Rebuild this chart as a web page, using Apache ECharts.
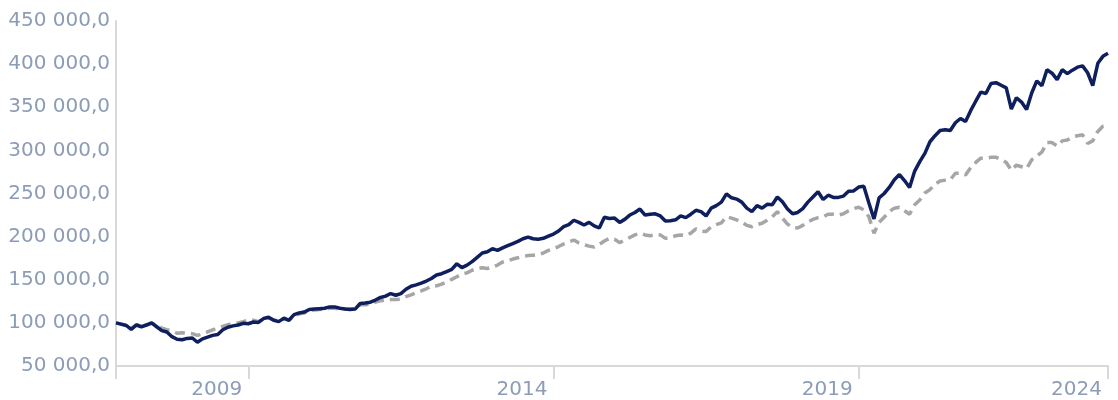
<!DOCTYPE html>
<html>
<head>
<meta charset="utf-8">
<script src="https://cdn.jsdelivr.net/npm/echarts@6/dist/echarts.min.js"></script>
<style>
html,body{margin:0;padding:0;background:#fff;}
#chart{width:1118px;height:400px;}
</style>
</head>
<body>
<div id="chart"></div>
<script>
// Monthly observations, Oct 2007 .. Jan 2024 (values in thousands)
const startYear = 2007, startMonth = 10, monthCount = 196;
const categories = [];
for (let i = 0; i < monthCount; i++) {
  const m = (startMonth - 1 + i) % 12 + 1;
  const y = startYear + Math.floor((startMonth - 1 + i) / 12);
  categories.push(y + '-' + String(m).padStart(2, '0'));
}

const fundValues = [
  100.0, 98.5, 97, 92.5, 97.5, 95.5, 97.5, 100, 95.5, 91,
  89.5, 84, 81, 80.5, 82, 82.5, 77.5, 81.5, 83.5, 85.5,
  86.5, 92, 95, 96.5, 97.5, 99.5, 99, 101, 100.5, 105,
  106.5, 103, 101.5, 105.5, 103, 109.5, 111.5, 112.5, 115.5, 116,
  116.5, 117, 118.5, 118.5, 117, 116, 115.5, 116, 122.5, 123,
  124, 126.5, 129.5, 131, 134, 132, 134, 139, 142.5, 144,
  146, 148.5, 151.5, 155.5, 157, 159.5, 162, 168.5, 164, 167,
  171, 176, 181, 182.5, 186, 184, 187, 189.5, 192, 194.5,
  197.5, 199.5, 197.5, 197, 198, 200.5, 203, 206.5, 211.5, 214,
  219, 216.5, 213.5, 216.5, 212.5, 210, 222.5, 221, 221.5, 216.5,
  220, 225, 228, 232, 225, 226, 226.5, 224, 218, 218.5,
  219.5, 224, 222, 226, 230.5, 229, 224, 233, 236, 240,
  249.5, 245, 243.5, 240, 233, 229, 236, 233, 237.5, 237,
  246, 240.5, 232, 226.5, 228, 232.5, 240, 246, 252, 243,
  248, 245.5, 245.5, 247, 252.5, 253, 257.5, 258.5, 239, 220.5,
  245, 250, 257, 266, 272, 265, 257, 276, 287, 296.5,
  310, 317, 323, 324, 323, 332, 337, 333.5, 346, 357,
  367.5, 366, 377.5, 378.5, 375.5, 372.5, 348, 361, 356, 347.5,
  366.5, 380.5, 375, 393.5, 389.5, 382, 393.5, 389, 393, 396.5,
  398, 390, 375, 401, 409, 412.5
];

const benchmarkValues = [
  100, 98.5, 97.5, 93.5, 98, 96.5, 98, 99.5, 97, 94,
  92, 91, 88, 88.5, 88, 87.5, 85.5, 87, 89.5, 92,
  93.5, 96, 98, 99.5, 100, 101.5, 103, 103, 101.5, 104.5,
  105.5, 103.5, 102, 104.5, 103.5, 108, 110.5, 111.5, 114, 115,
  115.5, 116, 117, 117, 116, 116, 116, 116.5, 121, 121,
  122, 124, 125.5, 126.5, 127, 127, 127.5, 130.5, 132.5, 135,
  137, 139.5, 142.5, 143, 145, 147.5, 150.5, 153.5, 156.5, 158,
  161, 163, 164, 163, 164.5, 167, 170.5, 172, 174, 175.5,
  177, 178, 178.5, 179, 181, 184, 186, 188.5, 191.5, 194,
  196, 192.5, 190.5, 189, 188, 191, 195, 198, 197, 193,
  196, 199, 202, 204, 202, 201, 202.5, 202, 198, 199,
  201, 202, 201, 204, 209, 206.5, 206, 211.5, 214, 216,
  223, 221.5, 219.5, 217, 213, 211.5, 214, 215.5, 219, 223,
  229, 221.5, 214.5, 210.5, 210, 213, 217, 220, 222, 223,
  226, 226, 225, 226.5, 230, 232.5, 234, 231, 223, 204,
  216.5, 222.5, 229, 233, 234, 230, 226, 237, 242.5, 250.5,
  254.5, 261, 264.5, 265.5, 266, 273.5, 273.5, 271.5, 280, 286,
  291, 291, 292, 292, 289.5, 286, 277, 283, 281, 279,
  289, 293.5, 298, 309, 309, 305, 311, 312, 315.5, 317,
  318, 308, 311, 322, 328, 328.5
];

const tickIndices = [0, 26, 86, 146, 195];
const tickLabels = { 26: '2009', 86: '2014', 146: '2019', 195: '2024' };
const yTicks = [50000, 100000, 150000, 200000, 250000, 300000, 350000, 400000, 450000];

const labelColor = '#8d9cb6';
const axisColor = '#d9d9d9';
const font = 'DejaVu Sans, Verdana, sans-serif';

function fmt(v) {
  return String(v).replace(/\B(?=(\d{3})+(?!\d))/g, ' ') + ',0';
}

const chart = echarts.init(document.getElementById('chart'));
chart.setOption({
  animation: false,
  grid: { left: 116, right: 10, top: 21, bottom: 34, containLabel: false },
  xAxis: {
    type: 'category',
    data: categories,
    boundaryGap: false,
    axisLine: { show: true, lineStyle: { color: axisColor, width: 2 } },
    axisTick: {
      show: true,
      length: 13,
      interval: (idx) => tickIndices.includes(idx),
      lineStyle: { color: axisColor, width: 2 }
    },
    axisLabel: {
      interval: (idx) => tickLabels[idx] !== undefined,
      formatter: (val, idx) => tickLabels[idx] || '',
      align: 'right',
      padding: [0, 6, 0, 0],
      margin: 14,
      color: labelColor,
      fontSize: 20,
      fontFamily: font
    },
    splitLine: { show: false }
  },
  yAxis: {
    type: 'value',
    min: yTicks[0],
    max: yTicks[yTicks.length - 1],
    interval: 50000,
    axisLine: { show: true, lineStyle: { color: axisColor, width: 2 } },
    axisTick: { show: false },
    axisLabel: {
      formatter: fmt,
      margin: 6,
      color: labelColor,
      fontSize: 20,
      fontFamily: font
    },
    splitLine: { show: false }
  },
  series: [
    {
      type: 'line',
      data: benchmarkValues.map(v => v * 1000),
      symbol: 'none',
      lineStyle: { color: '#a6a6a6', width: 3.5, type: [10, 6] },
      z: 2
    },
    {
      type: 'line',
      data: fundValues.map(v => v * 1000),
      symbol: 'none',
      lineStyle: { color: '#0f1f5e', width: 3.5 },
      z: 3
    }
  ]
});
</script>
</body>
</html>
